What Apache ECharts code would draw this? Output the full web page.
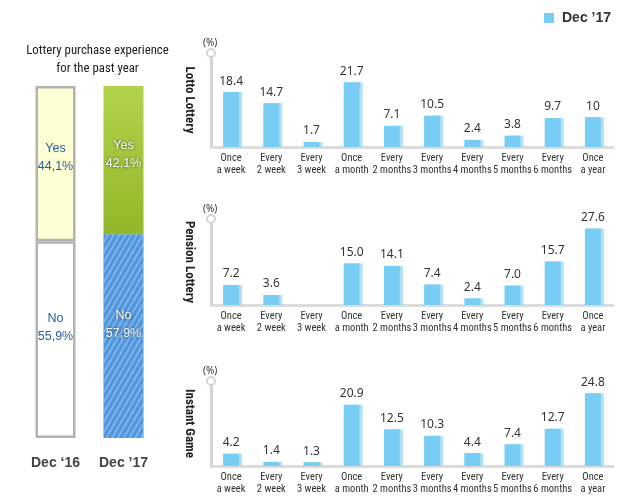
<!DOCTYPE html>
<html>
<head>
<meta charset="utf-8">
<script src="https://cdn.jsdelivr.net/npm/echarts@6/dist/echarts.min.js"></script>
<style>html,body{margin:0;padding:0;background:#fff}#c{width:641px;height:502px}</style>
</head>
<body>
<div id="c"></div>
<script>
// ---- data ----
const yearCats = ['Dec ‘16', 'Dec ’17'];
const yesValues = [44.1, 42.1];
const noValues = [55.9, 57.9];

const freqCats = ['Once\na week', 'Every\n2 week', 'Every\n3 week', 'Once\na month', 'Every\n2 months', 'Every\n3 months', 'Every\n4 months', 'Every\n5 months', 'Every\n6 months', 'Once\na year'];
const lottoValues = [18.4, 14.7, 1.7, 21.7, 7.1, 10.5, 2.4, 3.8, 9.7, 10];
const pensionValues = [7.2, 3.6, null, 15.0, 14.1, 7.4, 2.4, 7.0, 15.7, 27.6];
const instantValues = [4.2, 1.4, 1.3, 20.9, 12.5, 10.3, 4.4, 7.4, 12.7, 24.8];
const lottoLabels = ['18.4', '14.7', '1.7', '21.7', '7.1', '10.5', '2.4', '3.8', '9.7', '10'];
const pensionLabels = ['7.2', '3.6', '', '15.0', '14.1', '7.4', '2.4', '7.0', '15.7', '27.6'];
const instantLabels = ['4.2', '1.4', '1.3', '20.9', '12.5', '10.3', '4.4', '7.4', '12.7', '24.8'];
const panelNames = ['Lotto Lottery', 'Pension Lottery', 'Instant Game'];

// ---- chart ----
const chart = echarts.init(document.getElementById('c'));
const narrow = '"Roboto Condensed", "Liberation Sans", sans-serif';
const panels = [
  {top: 53, height: 94, max: 31.5, vals: lottoValues, labs: lottoLabels},
  {top: 219, height: 86, max: 31, vals: pensionValues, labs: pensionLabels},
  {top: 381, height: 85, max: 29, vals: instantValues, labs: instantLabels}
];

const grids = [{left: 21.5, width: 136, top: 86, height: 352}];
const xAxes = [{
  gridIndex: 0, type: 'category', data: yearCats,
  axisLine: {show: false}, axisTick: {show: false},
  axisLabel: {margin: 18, fontSize: 14, fontWeight: 'bold', color: '#444', fontFamily: 'Liberation Sans, Arial, sans-serif'}
}];
const yAxes = [{gridIndex: 0, type: 'value', min: 0, max: 100, show: false}];
const titles = [{
  text: 'Lottery purchase experience\nfor the past year', left: 92.5, top: 37, textAlign: 'center',
  textStyle: {fontSize: 12.8, fontWeight: 'normal', color: '#222', fontFamily: narrow, lineHeight: 18}
}];

const yesItemStyle = [
  {color: '#ffffd6', borderColor: '#b3b3b3', borderWidth: 2.5},
  {color: new echarts.graphic.LinearGradient(0, 0, 0, 1, [{offset: 0, color: '#b2d34c'}, {offset: 1, color: '#93b72a'}])}
];
const noItemStyle = [
  {color: '#ffffff', borderColor: '#b3b3b3', borderWidth: 2.5},
  {color: '#4f95dc', decal: {symbol: 'rect', symbolSize: 1, color: 'rgba(160,205,245,0.55)', dashArrayX: [1, 0], dashArrayY: [2, 3], rotation: -Math.PI / 3}}
];
const lblStyle = (i) => i === 0
  ? {color: '#2a5d9a'}
  : {color: '#ffffff', textShadowColor: 'rgba(0,0,0,0.7)', textShadowBlur: 3};

const series = [
  {
    name: 'No', type: 'bar', stack: 'a', xAxisIndex: 0, yAxisIndex: 0, barWidth: 40,
    data: noValues.map((v, i) => ({value: v, itemStyle: noItemStyle[i],
      label: Object.assign({show: true, position: 'inside', offset: [0, -12], fontSize: 12.5, lineHeight: 18,
        fontFamily: 'Liberation Sans, Arial, sans-serif',
        formatter: 'No\n' + String(v).replace('.', ',') + '%'}, lblStyle(i))}))
  },
  {
    name: 'Yes', type: 'bar', stack: 'a', xAxisIndex: 0, yAxisIndex: 0, barWidth: 40,
    data: yesValues.map((v, i) => ({value: v, itemStyle: yesItemStyle[i],
      label: Object.assign({show: true, position: 'inside', offset: [0, -6], fontSize: 12.5, lineHeight: 18,
        fontFamily: 'Liberation Sans, Arial, sans-serif',
        formatter: 'Yes\n' + String(v).replace('.', ',') + '%'}, lblStyle(i))}))
  }
];

panels.forEach((p, k) => {
  const gi = k + 1;
  grids.push({left: 211, width: 402, top: p.top, height: p.height});
  xAxes.push({
    gridIndex: gi, type: 'category', data: freqCats,
    axisLine: {lineStyle: {color: '#dcdcdc', width: 3}}, axisTick: {show: false},
    axisLabel: {interval: 0, margin: 6, fontSize: 10.5, lineHeight: 11.5, color: '#333', fontFamily: narrow}
  });
  yAxes.push({
    gridIndex: gi, type: 'value', min: 0, max: p.max,
    axisLabel: {show: false}, axisTick: {show: false}, splitLine: {show: false},
    axisLine: {show: true, symbol: ['none', 'emptyCircle'], symbolSize: [8, 8], lineStyle: {color: '#d4d4d4', width: 3}},
    name: panelNames[k], nameLocation: 'middle', nameRotate: -90, nameGap: 15,
    nameTextStyle: {fontSize: 13, fontWeight: 'bold', color: '#222', fontFamily: narrow}
  });
  titles.push({text: '(%)', left: 198, top: p.top - 20, textStyle: {fontSize: 10, fontWeight: 'normal', color: '#333', fontFamily: 'Noto Sans, sans-serif'}});
  series.push({
    name: 'Dec ’17', type: 'bar', xAxisIndex: gi, yAxisIndex: gi, barWidth: 16,
    itemStyle: {color: '#78cdf4', shadowColor: 'rgba(150,212,240,0.7)', shadowOffsetX: 3, shadowOffsetY: 0, shadowBlur: 0},
    label: {show: true, position: 'top', distance: 5, fontSize: 12, color: '#333', fontFamily: 'Noto Sans, sans-serif',
      formatter: (d) => p.labs[d.dataIndex]},
    data: p.vals
  });
});

chart.setOption({
  animation: false,
  title: titles,
  legend: {
    data: [{name: 'Dec ’17', icon: 'rect'}], left: 539, top: 6, itemWidth: 10, itemHeight: 10, itemGap: 5,
    textStyle: {fontSize: 14, fontWeight: 'bold', color: '#333', fontFamily: 'Liberation Sans, Arial, sans-serif', padding: [0, 0, 0, 3]},
    itemStyle: {shadowBlur: 0, shadowOffsetX: 0}
  },
  grid: grids, xAxis: xAxes, yAxis: yAxes, series: series
});
</script>
</body>
</html>
